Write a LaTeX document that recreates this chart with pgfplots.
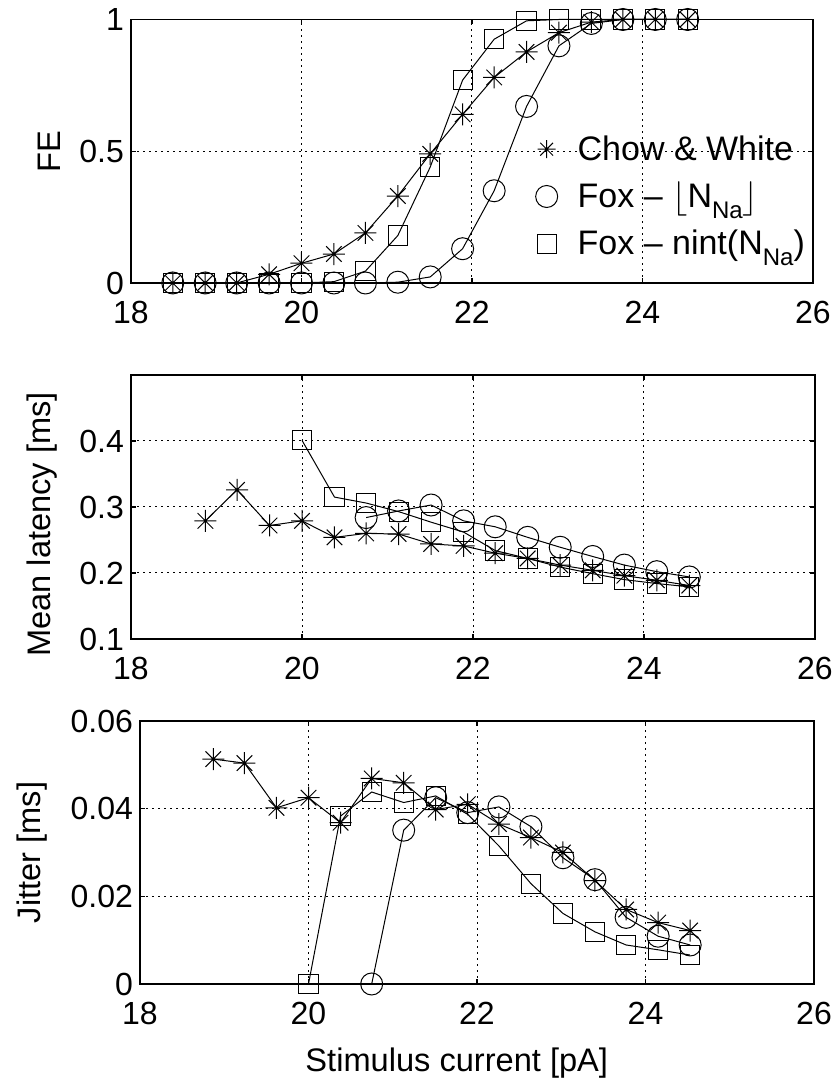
\documentclass[border=0pt]{standalone}
\usepackage{fontspec}
\setmainfont{Liberation Sans}
\usepackage{pgfplots}
\pgfplotsset{compat=1.18}

\newcommand{\sub}[1]{\raisebox{-5.5pt}{\fontsize{12}{12}\selectfont #1}}

\pgfdeclareplotmark{mstar}{%
 \pgfpathmoveto{\pgfqpoint{-\pgfplotmarksize}{0pt}}\pgfpathlineto{\pgfqpoint{\pgfplotmarksize}{0pt}}%
 \pgfpathmoveto{\pgfqpoint{0pt}{-\pgfplotmarksize}}\pgfpathlineto{\pgfqpoint{0pt}{\pgfplotmarksize}}%
 \pgfpathmoveto{\pgfqpoint{-0.707\pgfplotmarksize}{-0.707\pgfplotmarksize}}\pgfpathlineto{\pgfqpoint{0.707\pgfplotmarksize}{0.707\pgfplotmarksize}}%
 \pgfpathmoveto{\pgfqpoint{-0.707\pgfplotmarksize}{0.707\pgfplotmarksize}}\pgfpathlineto{\pgfqpoint{0.707\pgfplotmarksize}{-0.707\pgfplotmarksize}}%
 \pgfusepathqstroke}

\pgfplotsset{
 panel/.style={
  scale only axis, anchor=south west, clip=false,
  scaled y ticks=false, scaled x ticks=false,
  xmin=18, xmax=26, xtick={18,20,22,24,26}, xticklabels={18,20,22,24,26},
  tick align=inside, major tick length=2.5pt,
  grid=major, grid style={black, line width=0.5pt, dash pattern=on 1pt off 2pt},
  axis line style={line width=0.8pt},
  every tick/.style={black, line width=0.6pt},
  ticklabel style={font=\fontsize{16}{16}\selectfont},
  xticklabel style={yshift=-5.5pt},
  every axis y label/.style={rotate=90, anchor=center, font=\fontsize{16.3}{18}\selectfont},
  every axis x label/.style={anchor=center, font=\fontsize{16.3}{18}\selectfont},
  every axis plot/.append style={black, line width=0.5pt, mark options={solid, line width=0.5pt}},
 },
 cw/.style={mark=mstar, mark size=5.5pt},
 fc/.style={mark=o, mark size=5.5pt},
 fs/.style={mark=square, mark size=4.8pt},
}

\pgfplotstableread{
x     cw     fc     fs
18.49 0      0      0
18.87 0      0      0
19.24 0      0      0
19.62 0.033  0      0
20.00 0.075  0      0
20.38 0.11   0      0.005
20.75 0.19   0      0.045
21.13 0.33   0.003  0.18
21.51 0.49   0.023  0.44
21.89 0.64   0.13   0.77
22.26 0.78   0.35   0.925
22.64 0.877  0.67   0.995
23.02 0.95   0.90   1
23.40 0.99   0.985  1
23.77 1      1      1
24.15 1      1      1
24.53 1      1      1
}\tabFE

\pgfplotstableread{
x     y
18.87 0.279
19.24 0.326
19.62 0.272
20.00 0.279
20.38 0.254
20.75 0.260
21.13 0.259
21.51 0.244
21.89 0.241
22.26 0.230
22.64 0.222
23.02 0.212
23.40 0.204
23.77 0.196
24.15 0.189
24.53 0.181
}\latCW
\pgfplotstableread{
x     y
20.75 0.284
21.13 0.294
21.51 0.303
21.89 0.279
22.26 0.270
22.64 0.254
23.02 0.239
23.40 0.225
23.77 0.212
24.15 0.202
24.53 0.194
}\latFC
\pgfplotstableread{
x     y
20.00 0.401
20.38 0.315
20.75 0.306
21.13 0.293
21.51 0.277
21.89 0.262
22.26 0.234
22.64 0.222
23.02 0.209
23.40 0.199
23.77 0.190
24.15 0.184
24.53 0.179
}\latFS

\pgfplotstableread{
x     y
18.87 0.0513
19.24 0.0504
19.62 0.0402
20.00 0.0425
20.38 0.0368
20.75 0.0469
21.13 0.0459
21.51 0.0398
21.89 0.0410
22.26 0.0365
22.64 0.0334
23.02 0.0300
23.40 0.0236
23.77 0.0170
24.15 0.0140
24.53 0.0122
}\jitCW
\pgfplotstableread{
x     y
20.75 0
21.13 0.0351
21.51 0.0425
21.89 0.0391
22.26 0.0404
22.64 0.0359
23.02 0.0288
23.40 0.0238
23.77 0.0152
24.15 0.0109
24.53 0.0089
}\jitFC
\pgfplotstableread{
x     y
20.00 0
20.38 0.0383
20.75 0.0438
21.13 0.0414
21.51 0.0429
21.89 0.0387
22.26 0.0315
22.64 0.0229
23.02 0.0161
23.40 0.0119
23.77 0.0089
24.15 0.0078
24.53 0.0066
}\jitFS

\begin{document}
\begin{tikzpicture}
\useasboundingbox (0,0) rectangle (416pt,540pt);

% Panel 1: FE
\begin{axis}[panel, at={(65.5pt,398.5pt)}, width=341pt, height=131.75pt,
  ymin=0, ymax=1, ytick={0,0.5,1}, yticklabels={0,0.5,1},
  ylabel={FE}, ylabel style={at={(rel axis cs:-0.1202,0.5)}},
  legend cell align=left,
  legend style={at={(0.584,0.592)}, anchor=north west, draw=none, fill=none,
    column sep=8pt, row sep=5.5pt, font=\fontsize{17}{20}\selectfont},
]
\addlegendimage{only marks, mark=mstar, mark size=4.5pt, line width=0.5pt}
\addlegendentry{Chow \& White}
\addlegendimage{only marks, mark=o, mark size=5.5pt, line width=0.5pt}
\addlegendentry{Fox -- $\lfloor$N\sub{Na}$\rfloor$}
\addlegendimage{only marks, mark=square, mark size=4.8pt, line width=0.5pt}
\addlegendentry{Fox -- nint(N\sub{Na})}
\addplot[cw, forget plot] table[x=x, y=cw] {\tabFE};
\addplot[fc, forget plot] table[x=x, y=fc] {\tabFE};
\addplot[fs, forget plot] table[x=x, y=fs] {\tabFE};
\end{axis}

% Panel 2: Mean latency
\begin{axis}[panel, at={(65.5pt,220.5pt)}, width=342pt, height=132pt,
  ymin=0.1, ymax=0.5, ytick={0.1,0.2,0.3,0.4}, yticklabels={0.1,0.2,0.3,0.4},
  ylabel={Mean latency [ms]}, ylabel style={at={(rel axis cs:-0.1301,0.434)}},
]
\addplot[cw] table {\latCW};
\addplot[fc] table {\latFC};
\addplot[fs] table {\latFS};
\end{axis}

% Panel 3: Jitter
\begin{axis}[panel, at={(70pt,48pt)}, width=337pt, height=131.5pt,
  ymin=0, ymax=0.06, ytick={0,0.02,0.04,0.06}, yticklabels={0,0.02,0.04,0.06},
  ylabel={Jitter [ms]}, ylabel style={at={(rel axis cs:-0.1602,0.5)}},
  xlabel={Stimulus current [pA]},
  xlabel style={at={(rel axis cs:0.47,-0.3004)}},
]
\addplot[cw] table {\jitCW};
\addplot[fc] table {\jitFC};
\addplot[fs] table {\jitFS};
\end{axis}
\end{tikzpicture}
\end{document}
